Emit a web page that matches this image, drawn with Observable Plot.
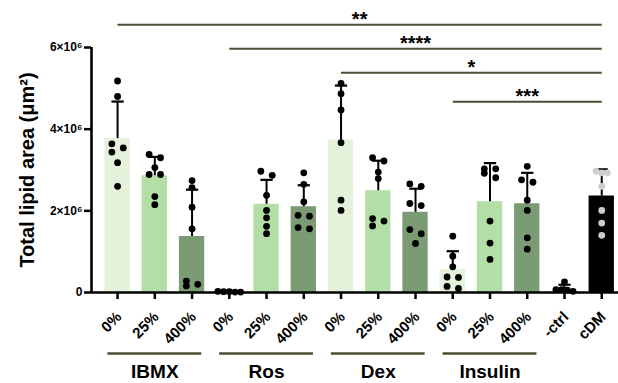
<!DOCTYPE html>
<html>
<head>
<meta charset="utf-8">
<script src="https://cdn.jsdelivr.net/npm/d3@7"></script>
<script src="https://cdn.jsdelivr.net/npm/@observablehq/plot@0.6"></script>
<style>
  html, body { margin: 0; padding: 0; background: #fff; }
</style>
</head>
<body>
<div id="chart"></div>
<script>
// ---- data (values in units of 10^6 µm²) ----
const tickLabels = ["0%","25%","400%","0%","25%","400%","0%","25%","400%","0%","25%","400%","-ctrl","cDM"];
const groupNames = ["IBMX","Ros","Dex","Insulin"];
const groupStart = [0, 3, 6, 9];
const groupEnd = [2, 5, 8, 11];
const barColors = ["#e4f2db","#b3dea5","#7a9b73","#e4f2db","#b3dea5","#7a9b73","#e4f2db","#b3dea5","#7a9b73","#e4f2db","#b3dea5","#7a9b73","#ffffff","#000000"];

const ibmx0   = [5.18, 4.80, 3.64, 3.54, 3.44, 3.18, 2.60];
const ibmx25  = [3.38, 3.30, 3.06, 2.89, 2.89, 2.35, 2.15];
const ibmx400 = [2.74, 2.57, 2.09, 1.56, 0.28, 0.20, 0.16];
const ros0    = [0.03, 0.02, 0.02, 0.01, 0.01];
const ros25   = [2.97, 2.87, 2.38, 2.01, 1.83, 1.62, 1.44];
const ros400  = [2.93, 2.65, 2.22, 1.89, 1.87, 1.59, 1.56];
const dex0    = [5.12, 4.87, 4.47, 3.67, 2.26, 2.01];
const dex25   = [3.30, 3.22, 2.95, 2.79, 1.81, 1.75, 1.63];
const dex400  = [2.66, 2.60, 2.18, 2.13, 1.54, 1.44, 1.20];
const ins0    = [1.38, 0.89, 0.63, 0.38, 0.37, 0.15, 0.10];
const ins25   = [3.03, 3.03, 2.92, 2.81, 1.75, 1.21, 0.81];
const ins400  = [3.09, 2.76, 2.70, 2.26, 2.01, 1.34, 1.06];
const negCtrl = [0.26, 0.07, 0.07, 0.06, 0.03];
const cdm     = [2.97, 2.93, 2.93, 2.60, 2.01, 1.70, 1.40];

const conditions = [ibmx0, ibmx25, ibmx400, ros0, ros25, ros400, dex0, dex25, dex400, ins0, ins25, ins400, negCtrl, cdm];

const yTicks = [0, 2e6, 4e6, 6e6];
const yTickLabels = ["0", "2×10⁶", "4×10⁶", "6×10⁶"];

const sigFrom = [0, 3, 6, 9];
const sigTo = [13, 13, 13, 13];
const sigLevel = [6.56e6, 5.97e6, 5.38e6, 4.67e6];
const sigText = ["**", "****", "*", "***"];

// ---- layout ----
const W = 618, H = 383;
const mL = 91, mR = 0, mT = 47, mB = 91;
const xDomain = [-0.7, 13.45];
const pxPerUnitX = (W - mL - mR) / (xDomain[1] - xDomain[0]);
const pxPerMillion = (H - mT - mB) / 6;
const s = 5.7 / pxPerUnitX;          // horizontal spread step of scatter points
const chainGap = 6 / pxPerMillion;    // vertical closeness (in millions) for side-by-side placement

// scatter layout: points close in value are placed side by side
const points = [];
conditions.forEach((vals, i) => {
  const sorted = vals.slice().sort((a, b) => b - a);
  let chains = [];
  sorted.forEach(v => {
    const last = chains[chains.length - 1];
    if (last && (last[last.length - 1] - v) < chainGap) last.push(v);
    else chains.push([v]);
  });
  chains.forEach(ch => {
    const n = ch.length;
    const rangePx = (ch[0] - ch[n - 1]) * pxPerMillion;
    ch.forEach((v, j) => {
      let off = 0;
      if (n === 2) off = j === 0 ? -s : s;
      else if (n >= 3 && rangePx < 2) off = (j - (n - 1) / 2) * s;
      else if (n >= 3) off = j % 2 === 0 ? -s : s;
      points.push({i, v: v * 1e6, off});
    });
  });
});

const stats = conditions.map((vals, i) => ({
  i,
  mean: d3.mean(vals) * 1e6,
  sd: (d3.deviation(vals) || 0) * 1e6
}));

const groups = groupNames.map((g, k) => ({name: g, a: groupStart[k], b: groupEnd[k]}));
const sigs = sigText.map((t, k) => ({t, a: sigFrom[k], b: sigTo[k], y: sigLevel[k]}));
const tickIdx = d3.range(tickLabels.length);

const ink = "#000000";
const olive = "#4b4c33";

const chart = Plot.plot({
  width: W,
  height: H,
  marginLeft: mL,
  marginRight: mR,
  marginTop: mT,
  marginBottom: mB,
  x: {domain: xDomain, axis: null},
  y: {domain: [0, 6e6], axis: null},
  color: {type: "identity"},
  style: {fontFamily: "'Liberation Sans', Arial, sans-serif", fontWeight: "bold", background: "#ffffff", color: "#000000", overflow: "visible"},
  marks: [
    Plot.rect(stats, {x1: d => d.i - 0.34, x2: d => d.i + 0.34, y1: 0, y2: "mean", fill: d => barColors[d.i]}),
    Plot.ruleX(stats, {x: "i", y1: "mean", y2: d => d.mean + d.sd, stroke: ink, strokeWidth: 2}),
    Plot.link(stats, {x1: d => d.i - 0.165, x2: d => d.i + 0.165, y1: d => d.mean + d.sd, y2: d => d.mean + d.sd, stroke: ink, strokeWidth: 2.2}),
    Plot.dot(points, {x: d => d.i + d.off, y: "v", r: 3.4, fill: d => d.i === 13 ? "#cdcdcd" : "#000000", stroke: "none"}),
    Plot.ruleY([0], {stroke: ink, strokeWidth: 2.6}),
    Plot.ruleX([xDomain[0]], {y1: 0, y2: 6e6, stroke: ink, strokeWidth: 2.6}),
    Plot.axisY(yTicks, {tickFormat: d => yTickLabels[yTicks.indexOf(d)], tickSize: 7, tickPadding: 2, strokeWidth: 2.5, fontSize: 12, label: null}),
    Plot.axisX(tickIdx, {tickFormat: () => "", tickSize: 7, strokeWidth: 2.5, label: null}),
    Plot.text(tickIdx, {x: d => d, y: 0, text: d => tickLabels[d], rotate: -45, textAnchor: "end", lineAnchor: "middle", dx: 1.5, dy: 22, fontSize: 15}),
    Plot.text(["Total lipid area (μm²)"], {frameAnchor: "left", textAnchor: "middle", rotate: -90, dx: -64, fontSize: 20}),
    Plot.ruleY(groups, {x1: d => d.a - 0.26, x2: d => d.b + 0.26, y: 0, dy: 61, stroke: olive, strokeWidth: 2.6}),
    Plot.text(groups, {x: d => (d.a + d.b) / 2, y: 0, text: "name", dy: 79, fontSize: 19}),
    Plot.link(sigs, {x1: "a", x2: "b", y1: "y", y2: "y", stroke: olive, strokeWidth: 2}),
    Plot.text(sigs, {x: d => (d.a + d.b) / 2, y: "y", text: "t", lineAnchor: "bottom", dy: 1, fontSize: 20})
  ]
});
document.getElementById("chart").appendChild(chart);
</script>
</body>
</html>
